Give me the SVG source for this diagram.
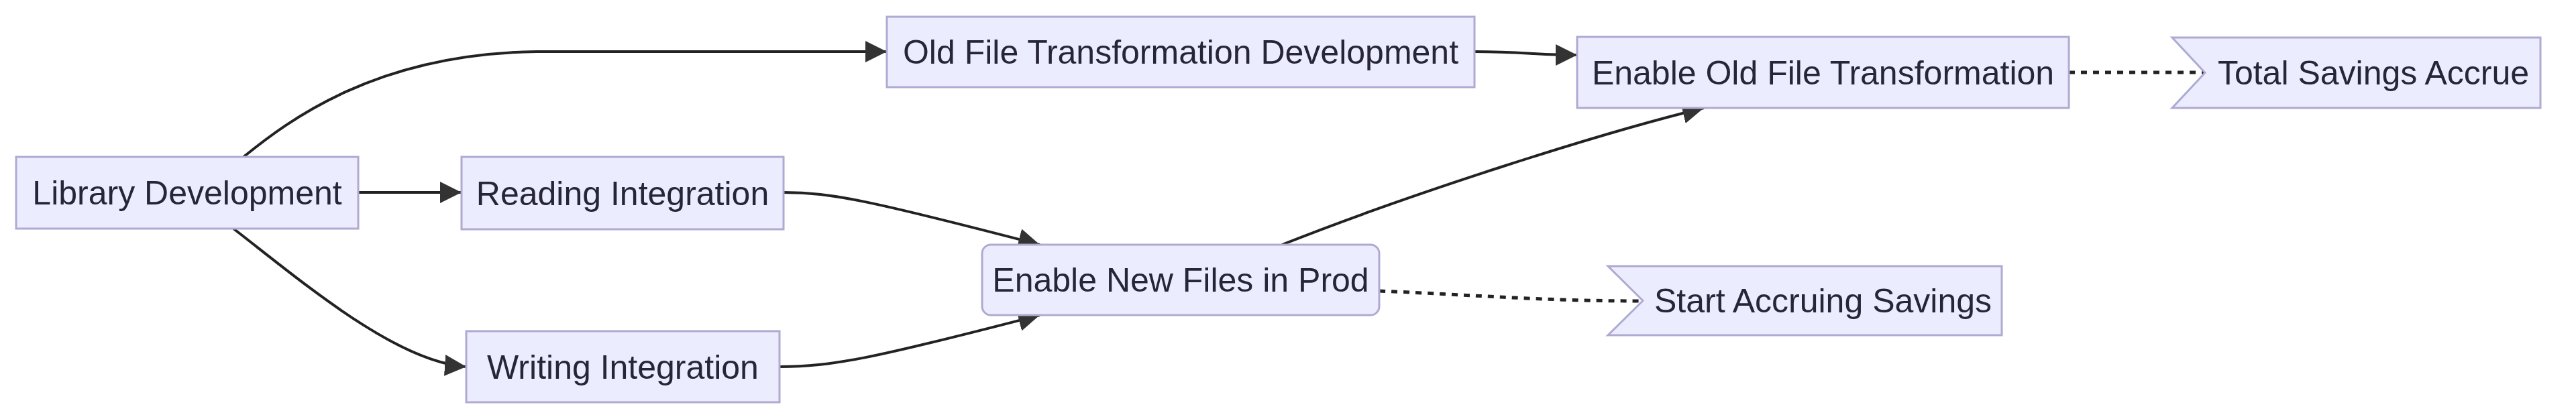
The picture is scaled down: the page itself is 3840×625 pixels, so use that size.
<svg xmlns="http://www.w3.org/2000/svg" width="3840" height="625" viewBox="0 0 3840 625">
<style>
.node{fill:#ECECFF;stroke:#aeaad2;stroke-width:3}
.lbl{font-family:"Liberation Sans",Arial,sans-serif;font-size:50px;fill:#262638;text-anchor:middle}
.edge{fill:none;stroke:#222;stroke-width:4}
.dot{fill:none;stroke:#222;stroke-width:5;stroke-dasharray:9 9}
</style>
<defs>
<marker id="arrow" viewBox="0 0 10 10" refX="10" refY="5" markerUnits="userSpaceOnUse" markerWidth="32" markerHeight="34" orient="auto">
<path d="M0,0 L10,5 L0,10 z" fill="#333"/>
</marker>
</defs>
<rect width="3840" height="625" fill="#ffffff"/>
<g id="connectors">
<path class="edge" d="M534,287 L688,287" marker-end="url(#arrow)"/>
<path class="edge" d="M363,234 C430,180 560,80 800,77 L1322,77" marker-end="url(#arrow)"/>
<path class="edge" d="M348,341 C450,420 590,540 695,547" marker-end="url(#arrow)"/>
<path class="edge" d="M1168,287 C1240,287 1300,300 1550,365" marker-end="url(#arrow)"/>
<path class="edge" d="M1162,547 C1240,547 1300,535 1550,470" marker-end="url(#arrow)"/>
<path class="edge" d="M2198,77 C2270,77 2290,82 2351,82" marker-end="url(#arrow)"/>
<path class="edge" d="M1911,365 C2100,290 2380,200 2540,161" marker-end="url(#arrow)"/>
<path class="dot" d="M2056,434 C2200,440 2300,449 2449,449"/>
<path class="dot" d="M3084,108 L3287,108"/>
</g>
<g id="library-development">
<rect class="node" x="24" y="234" width="510" height="107"/>
<text class="lbl" x="279" y="305">Library Development</text>
</g>
<g id="reading-integration">
<rect class="node" x="688" y="234" width="480" height="108"/>
<text class="lbl" x="928" y="306">Reading Integration</text>
</g>
<g id="writing-integration">
<rect class="node" x="695" y="494" width="467" height="106"/>
<text class="lbl" x="928.5" y="565">Writing Integration</text>
</g>
<g id="old-file-transformation-development">
<rect class="node" x="1322" y="25" width="876" height="105"/>
<text class="lbl" x="1760" y="95">Old File Transformation Development</text>
</g>
<g id="enable-new-files-in-prod">
<rect class="node" x="1464" y="365" width="592" height="105" rx="13" ry="13"/>
<text class="lbl" x="1760" y="435">Enable New Files in Prod</text>
</g>
<g id="enable-old-file-transformation">
<rect class="node" x="2351" y="55" width="733" height="106"/>
<text class="lbl" x="2717.5" y="126">Enable Old File Transformation</text>
</g>
<g id="start-accruing-savings">
<polygon class="node" points="2397,397 2984,397 2984,500 2397,500 2449,448.5"/>
<text class="lbl" x="2717.5" y="466">Start Accruing Savings</text>
</g>
<g id="total-savings-accrue">
<polygon class="node" points="3238,56 3787,56 3787,161 3238,161 3287,108.5"/>
<text class="lbl" x="3538" y="126">Total Savings Accrue</text>
</g>
</svg>
